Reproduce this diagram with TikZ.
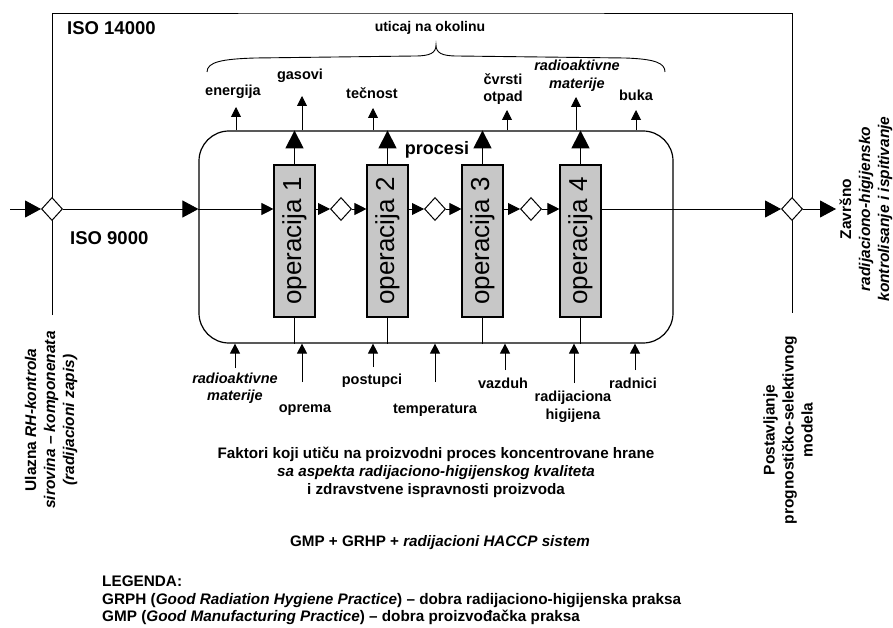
\documentclass[tikz,border=0pt]{standalone}
\usepackage{fontspec}
\setmainfont{Liberation Sans}
\usetikzlibrary{arrows.meta,shapes.geometric}
\begin{document}
\begin{tikzpicture}[x=1pt,y=-1pt,
  thin/.style={line width=0.9pt},
  lbl/.style={font=\fontsize{14.5}{17.5}\selectfont\bfseries, inner sep=0pt, align=center},
  big/.style={font=\fontsize{18.5}{21}\selectfont\bfseries, inner sep=0pt},
  txt/.style={font=\fontsize{15.2}{18}\selectfont\bfseries, inner sep=0pt, align=center},
  side/.style={font=\fontsize{15.5}{19}\selectfont\bfseries, inner sep=0pt, align=center, rotate=90},
  opbox/.style={draw, line width=1.1pt, fill=black!22, rotate=90, minimum width=152, minimum height=41, inner sep=0pt, font=\fontsize{26}{26}\selectfont},
  dia/.style={diamond, draw, line width=1pt, fill=white, minimum width=21, minimum height=23, inner sep=0pt},
  bigtip/.style={thin, -{Triangle[length=16pt,width=17pt]}},
  midtip/.style={thin, -{Triangle[length=12pt,width=12pt]}},
  optip/.style={line width=1.2pt, -{Triangle[length=18pt,width=18pt]}},
  stip/.style={thin, -{Triangle[length=10pt,width=10pt]}}
]
\useasboundingbox (0,0) rectangle (893,628);

% process box
\node[draw, line width=1.2pt, rounded corners=30pt, minimum width=474, minimum height=212, inner sep=0pt] (box) at (436,237) {};

% frame
\coordinate (fl) at (52,315);
\coordinate (ft) at (420,13);
\coordinate (fr) at (792,313);
\draw[thin] (fl) |- (ft) -| (fr);

% operations
\node[opbox] (op1) at (294.5,241) {operacija 1};
\node[opbox] (op2) at (387.5,241) {operacija 2};
\node[opbox] (op3) at (482.5,241) {operacija 3};
\node[opbox] (op4) at (580.5,241) {operacija 4};

% diamonds
\node[dia] (d1) at (52,209) {};
\node[dia] (d2) at (341,209) {};
\node[dia] (d3) at (435,209) {};
\node[dia] (d4) at (531,209) {};
\node[dia] (d5) at (792,209) {};
\coordinate (in) at (10,209);
\coordinate (out) at (836,209);

% main flow
\draw[bigtip] (in) -- (d1.west);
\draw[bigtip] (d1.east) -- (d1 -| box.west);
\draw[midtip] (d1 -| box.west) -- (d1 -| op1.north);
\draw[midtip] (d1 -| op1.south) -- (d2.west);
\draw[midtip] (d2.east) -- (d2 -| op2.north);
\draw[midtip] (d1 -| op2.south) -- (d3.west);
\draw[midtip] (d3.east) -- (d3 -| op3.north);
\draw[midtip] (d1 -| op3.south) -- (d4.west);
\draw[midtip] (d4.east) -- (d4 -| op4.north);
\draw[bigtip] (d1 -| op4.south) -- (d5.west);
\draw[bigtip] (d5.east) -- (out);

% op outputs / inputs
\foreach \o in {op1,op2,op3,op4}{
  \draw[optip] (\o.east) -- (\o.east |- box.north);
  \draw[line width=1.1pt] (\o.west) -- (\o.west |- box.south);
}

% top small arrows
\coordinate (t1) at (236,107);
\coordinate (t2) at (302,96);
\coordinate (t3) at (373,108);
\coordinate (t4) at (507,110);
\coordinate (t5) at (576,97);
\coordinate (t6) at (636,110);
\foreach \t in {t1,t2,t3,t4,t5,t6}{
  \draw[stip] (\t |- box.north) -- (\t);
}

% bottom small arrows
\coordinate (b1) at (235,368);
\coordinate (b2) at (302,382);
\coordinate (b3) at (373,367);
\coordinate (b4) at (435,382);
\coordinate (b5) at (505,370);
\coordinate (b6) at (574,383);
\coordinate (b7) at (635,370);
\foreach \b in {b1,b2,b3,b4,b5,b6,b7}{
  \draw[stip] (\b) -- (\b |- box.south);
}

% brace
\coordinate (brL) at (207,72);
\coordinate (brT) at (436,45);
\coordinate (brR) at (665,72);
\draw[thin] (brL) .. controls (207,62) and (222,59) .. (255,58) -- (415,56)
   .. controls (430,56) and (436,53) .. (brT)
   .. controls (436,53) and (442,56) .. (457,56) -- (625,58)
   .. controls (655,59) and (665,63) .. (brR);

% labels top
\node[big, anchor=west] (iso14) at (67,28) {ISO 14000};
\node[big, anchor=west] (iso9) at (70,238) {ISO 9000};
\node[lbl, font=\fontsize{14}{18}\selectfont\bfseries] (uticaj) at (430,28) {uticaj na okolinu};
\node[lbl] (l1) at (233,92) {energija};
\node[lbl] (l2) at (300,76) {gasovi};
\node[lbl] (l3) at (372,93) {tečnost};
\node[lbl] (l4) at (503,89) {čvrsti\\otpad};
\node[lbl] (l5) at (577,76) {\itshape radioaktivne\\\itshape materije};
\node[lbl] (l6) at (636,95) {buka};
\node[big, font=\fontsize{18}{21}\selectfont\bfseries] (procesi) at (437,150) {procesi};

% labels bottom
\node[lbl] (m1) at (235,388) {\itshape radioaktivne\\\itshape materije};
\node[lbl] (m2) at (305,410) {oprema};
\node[lbl] (m3) at (372,381) {postupci};
\node[lbl] (m4) at (435,410) {temperatura};
\node[lbl] (m5) at (503,383) {vazduh};
\node[lbl] (m6) at (573,407) {radijaciona\\higijena};
\node[lbl] (m7) at (633,383) {radnici};

\node[txt] (faktori) at (436,472) {Faktori koji utiču na proizvodni proces koncentrovane hrane\\
  \itshape sa aspekta radijaciono-higijenskog kvaliteta\\
  i zdravstvene ispravnosti proizvoda};
\node[txt] (gmp) at (440,543) {GMP + GRHP + \textit{radijacioni HACCP sistem}};

\node[txt, align=left, anchor=north west, font=\fontsize{15.3}{17.5}\selectfont\bfseries] (leg) at (102,576) {LEGENDA:\\
  GRPH (\textit{Good Radiation Hygiene Practice}) – dobra radijaciono-higijenska praksa\\
  GMP (\textit{Good Manufacturing Practice}) – dobra proizvođačka praksa};

% side texts
\node[side] (ulaz) at (51,420) {Ulazna \textit{RH-kontrola}\\ \textit{sirovina – komponenata}\\ \textit{(radijacioni zapis)}};
\node[side] (post) at (788,430) {Postavljanje\\ prognostičko-selektivnog\\ modela};
\node[side] (zav) at (866,209) {Završno\\ \textit{radijaciono-higijensko}\\ \textit{kontrolisanje i ispitivanje}};
\end{tikzpicture}
\end{document}
